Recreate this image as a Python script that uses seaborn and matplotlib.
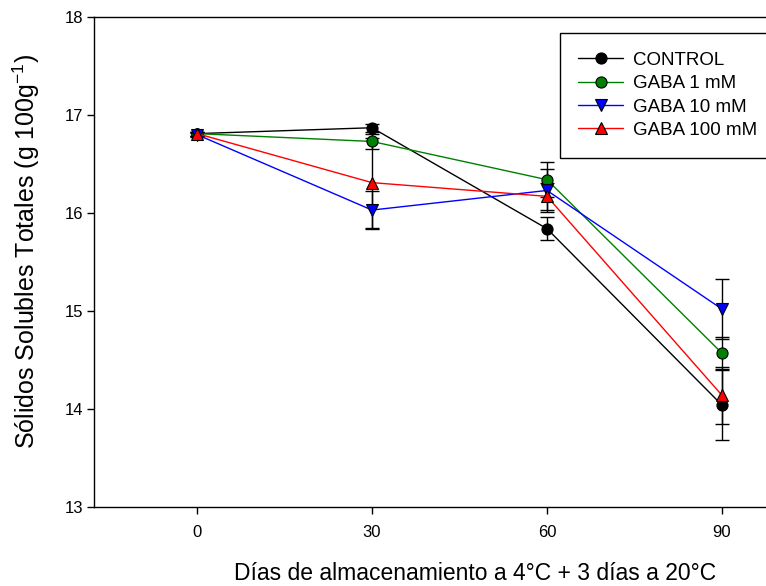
from matplotlib import pyplot as plt
import pandas as pd
import seaborn as sns

days = [0, 30, 60, 90]
treatments = ['CONTROL', 'GABA 1 mM', 'GABA 10 mM', 'GABA 100 mM']
control = [16.81, 16.87, 15.84, 14.04]
gaba_1 = [16.81, 16.73, 16.34, 14.57]
gaba_10 = [16.80, 16.03, 16.23, 15.02]
gaba_100 = [16.81, 16.31, 16.17, 14.14]
err_control = [0.02, 0.04, 0.12, 0.36]
err_gaba_1 = [0.02, 0.08, 0.18, 0.16]
err_gaba_10 = [0.02, 0.19, 0.22, 0.31]
err_gaba_100 = [0.02, 0.46, 0.14, 0.29]

values = [control, gaba_1, gaba_10, gaba_100]
errors = [err_control, err_gaba_1, err_gaba_10, err_gaba_100]
colors = ['black', 'green', 'blue', 'red']
markers = ['o', 'o', 'v', '^']

df = pd.DataFrame({
    'dia': days * 4,
    'sst': control + gaba_1 + gaba_10 + gaba_100,
    'err': err_control + err_gaba_1 + err_gaba_10 + err_gaba_100,
    'trat': [t for t in treatments for _ in days],
})

sns.set_style('ticks')
plt.rcParams['font.family'] = ['Liberation Sans', 'DejaVu Sans']
plt.rcParams['mathtext.default'] = 'regular'
plt.rcParams['text.color'] = 'black'
plt.rcParams['axes.labelcolor'] = 'black'

fig = plt.figure(figsize=(7.66, 5.86), dpi=100)
ax = fig.add_axes([94 / 766, 1 - 507 / 586, 1 - 94 / 766, 490 / 586])

# error bars first, in black, under the markers
for vals, errs in zip(values, errors):
    ax.errorbar(days, vals, yerr=errs, fmt='none', ecolor='black', elinewidth=1,
                capsize=5, capthick=1, zorder=2)

sns.lineplot(data=df, x='dia', y='sst', hue='trat', style='trat',
             palette=dict(zip(treatments, colors)),
             markers=dict(zip(treatments, markers)), dashes=False,
             markersize=8, markeredgecolor='black', markeredgewidth=0.8,
             linewidth=1, ax=ax, zorder=3)

ax.set_xlim(-17.66, 97.55)
ax.set_ylim(13, 18)
ax.set_xticks(days)
ax.set_yticks([13, 14, 15, 16, 17, 18])
ax.tick_params(direction='out', length=5, width=1, labelsize=12, colors='black', pad=3)
ax.tick_params(axis='x', pad=8)
for s in ['left', 'bottom', 'top']:
    ax.spines[s].set_color('black')
    ax.spines[s].set_linewidth(1)
ax.spines['right'].set_visible(False)

# the original frame runs past the right edge, so the x label sits right of centre
ax.set_xlabel('Días de almacenamiento a 4°C + 3 días a 20°C', fontsize=16.5)
ax.xaxis.set_label_coords(0.567, -0.112)
ax.set_ylabel('Sólidos Solubles Totales (g 100g$^{-1}$)', fontsize=18)
ax.yaxis.set_label_coords(-0.078, 0.522)

leg = ax.legend(loc='upper left', bbox_to_anchor=(0.693, 0.967), fontsize=13.5,
                frameon=True, fancybox=False, edgecolor='black', framealpha=1,
                handlelength=2.4, borderpad=1.0, labelspacing=0.33, handletextpad=0.5,
                borderaxespad=0)
leg.get_frame().set_linewidth(1)
for t in leg.get_texts():
    t.set_color('black')

fig.savefig('out.png', dpi=100)
